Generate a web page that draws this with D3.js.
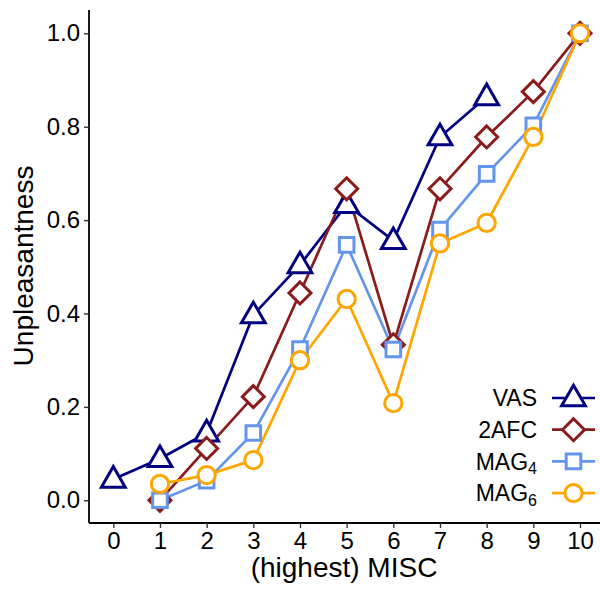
<!DOCTYPE html>
<html>
<head>
<meta charset="utf-8">
<script src="https://cdn.jsdelivr.net/npm/d3@7"></script>
<style>
  body { margin: 0; background: #fff; }
  text { font-family: "Liberation Sans", Arial, sans-serif; fill: #000; }
</style>
</head>
<body>
<div id="chart"></div>
<script>
// values
var misc = [0, 1, 2, 3, 4, 5, 6, 7, 8, 9, 10];
var vas   = [0.045, 0.089, 0.144, 0.397, 0.504, 0.633, 0.556, 0.778, 0.864, null, null];
var afc   = [null, 0.0, 0.111, 0.222, 0.444, 0.667, 0.333, 0.667, 0.778, 0.875, 1.0];
var mag4  = [null, 0.0, 0.042, 0.144, 0.324, 0.547, 0.323, 0.58, 0.699, 0.803, 1.0];
var mag6  = [null, 0.035, 0.054, 0.086, 0.30, 0.431, 0.208, 0.55, 0.594, 0.778, 1.0];
var yTicks = [0, 0.2, 0.4, 0.6, 0.8, 1.0];

var series = [
  { name: "VAS",  sub: null, vals: vas,  color: "#000080", shape: "triangle" },
  { name: "2AFC", sub: null, vals: afc,  color: "#8B1A1A", shape: "diamond" },
  { name: "MAG",  sub: "4",  vals: mag4, color: "#6495ED", shape: "square" },
  { name: "MAG",  sub: "6",  vals: mag6, color: "#FFA500", shape: "circle" }
];

var w = 600, h = 590;
var svg = d3.select("#chart").append("svg")
  .attr("width", w)
  .attr("height", h);

var x = d3.scaleLinear().domain([0, 10]).range([113.3, 580]);
var y = d3.scaleLinear().domain([0, 1]).range([500.3, 33.3]);

// axes
var xAxis = svg.append("g")
  .attr("transform", "translate(0,523)")
  .call(d3.axisBottom(x).tickValues(misc).tickSize(5).tickPadding(4).tickFormat(d3.format("d")));
xAxis.select(".domain").attr("d", "M89,0H600").attr("stroke-width", 1.8);

var yAxis = svg.append("g")
  .attr("transform", "translate(89,0)")
  .call(d3.axisLeft(y).tickValues(yTicks).tickSize(5).tickPadding(4).tickFormat(d3.format(".1f")));
yAxis.select(".domain").attr("d", "M0,10V523").attr("stroke-width", 1.8);

svg.selectAll(".tick line").attr("stroke", "#333").attr("stroke-width", 1.4);
svg.selectAll(".tick text").attr("font-size", 24).attr("fill", "#000")
  .style("font-family", "'Liberation Sans', Arial, sans-serif");

svg.append("text")
  .attr("x", 344).attr("y", 577)
  .attr("text-anchor", "middle")
  .attr("font-size", 28)
  .text("(highest) MISC");

svg.append("text")
  .attr("transform", "translate(33,266) rotate(-90)")
  .attr("text-anchor", "middle")
  .attr("font-size", 28)
  .text("Unpleasantness");

// marker shapes
var symbolFor = function(shape) {
  if (shape == "triangle") return d3.symbol().type(d3.symbolTriangle).size(245)();
  if (shape == "diamond") return "M0,-11L11,0L0,11L-11,0Z";
  if (shape == "square") return "M-7.3,-7.3H7.3V7.3H-7.3Z";
  return d3.symbol().type(d3.symbolCircle).size(235)();
};

var line = d3.line()
  .defined(function(d) { return d[1] != null; })
  .x(function(d) { return x(d[0]); })
  .y(function(d) { return y(d[1]); });

// lines first
series.forEach(function(s) {
  var pts = misc.map(function(m, i) { return [m, s.vals[i]]; });
  svg.append("path")
    .datum(pts)
    .attr("d", line)
    .attr("fill", "none")
    .attr("stroke", s.color)
    .attr("stroke-width", 2.7);
});

// then points
series.forEach(function(s) {
  var pts = misc.map(function(m, i) { return [m, s.vals[i]]; })
    .filter(function(d) { return d[1] != null; });
  var dy = s.shape == "triangle" ? 1 : 0;
  svg.selectAll(null)
    .data(pts)
    .enter()
    .append("path")
    .attr("d", symbolFor(s.shape))
    .attr("transform", function(d) { return "translate(" + x(d[0]) + "," + (y(d[1]) + dy) + ")"; })
    .attr("fill", "#fff")
    .attr("stroke", s.color)
    .attr("stroke-width", 3);
});

// legend
var legend = svg.append("g");
series.forEach(function(s, i) {
  var ly = 398 + i * 31.7;
  var t = legend.append("text")
    .attr("x", 537).attr("y", ly)
    .attr("dy", "0.36em")
    .attr("text-anchor", "end")
    .attr("font-size", 23);
  t.append("tspan").text(s.name);
  if (s.sub) {
    t.append("tspan").attr("font-size", 16).attr("dy", "0.3em").text(s.sub);
  }
  legend.append("line")
    .attr("x1", 552).attr("x2", 595)
    .attr("y1", ly).attr("y2", ly)
    .attr("stroke", s.color)
    .attr("stroke-width", 2.7);
  legend.append("path")
    .attr("d", symbolFor(s.shape))
    .attr("transform", "translate(573.5," + (ly + (s.shape == "triangle" ? 1 : 0)) + ")")
    .attr("fill", "#fff")
    .attr("stroke", s.color)
    .attr("stroke-width", 3);
});
</script>
</body>
</html>
